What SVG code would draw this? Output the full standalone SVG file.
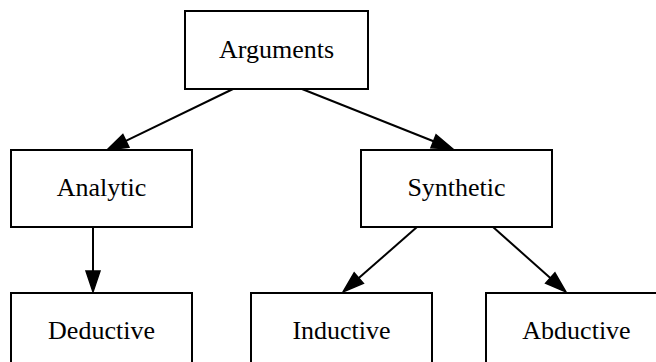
<svg xmlns="http://www.w3.org/2000/svg" width="656" height="362" viewBox="0 0 656 362">
<style>
.box{fill:#fff;stroke:#000;stroke-width:2}
.lbl{font-family:"Liberation Serif","Times New Roman",serif;font-size:26px;fill:#000;text-anchor:middle}
.edge{stroke:#000;stroke-width:2;fill:none}
</style>
<defs>
<marker id="arr" markerUnits="userSpaceOnUse" markerWidth="24" markerHeight="18" refX="1" refY="8" orient="auto" overflow="visible">
<path d="M1,1 L22,8 L1,15 Z" fill="#000" stroke="#000" stroke-width="1.5"/>
</marker>
</defs>
<rect width="656" height="362" fill="#fff"/>
<g id="connectors">
<line class="edge" x1="233" y1="89" x2="125.9" y2="140.9" marker-end="url(#arr)"/>
<line class="edge" x1="302" y1="89" x2="433.5" y2="141.3" marker-end="url(#arr)"/>
<line class="edge" x1="93" y1="227" x2="93" y2="271" marker-end="url(#arr)"/>
<line class="edge" x1="417" y1="227" x2="358.8" y2="278.1" marker-end="url(#arr)"/>
<line class="edge" x1="493" y1="227" x2="550.3" y2="278" marker-end="url(#arr)"/>
</g>
<g id="arguments">
<rect class="box" x="185" y="11" width="183" height="78"/>
<text class="lbl" x="276.5" y="58">Arguments</text>
</g>
<g id="analytic">
<rect class="box" x="11" y="150" width="181" height="77"/>
<text class="lbl" x="101.5" y="196">Analytic</text>
</g>
<g id="synthetic">
<rect class="box" x="361" y="150" width="191" height="77"/>
<text class="lbl" x="456.5" y="196">Synthetic</text>
</g>
<g id="deductive">
<rect class="box" x="11" y="293" width="181" height="77"/>
<text class="lbl" x="101.5" y="339">Deductive</text>
</g>
<g id="inductive">
<rect class="box" x="251" y="293" width="181" height="77"/>
<text class="lbl" x="341.5" y="339">Inductive</text>
</g>
<g id="abductive">
<rect class="box" x="486" y="293" width="181" height="77"/>
<text class="lbl" x="576.5" y="339">Abductive</text>
</g>
</svg>
